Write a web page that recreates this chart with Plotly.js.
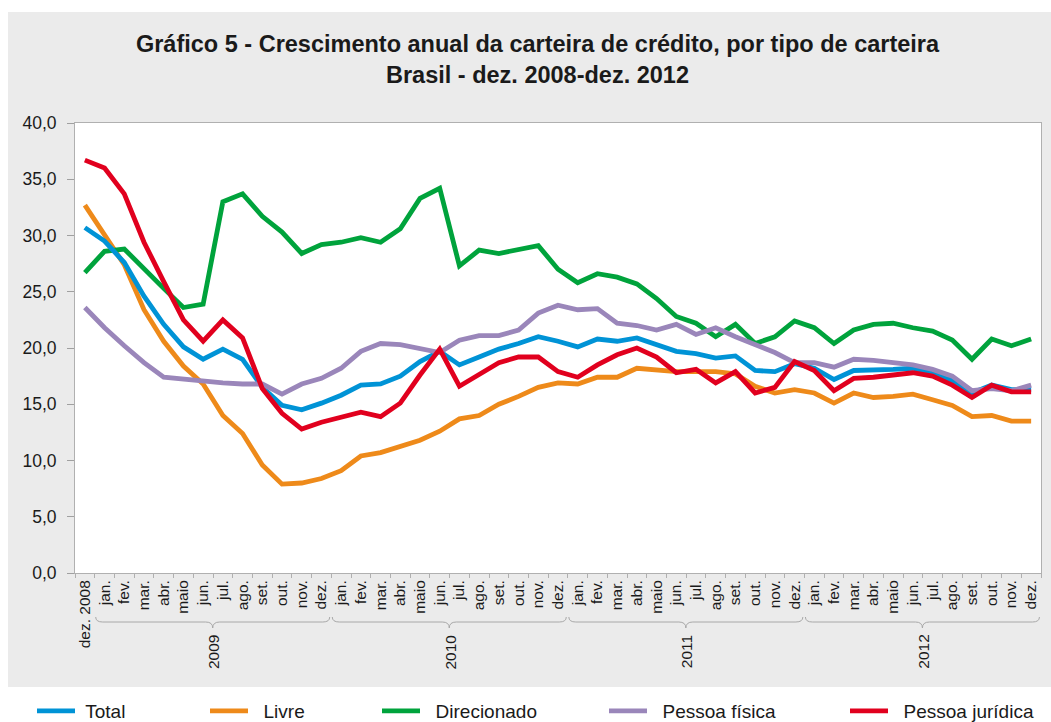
<!DOCTYPE html>
<html>
<head>
<meta charset="utf-8">
<script src="https://cdn.plot.ly/plotly-3.0.1.min.js"></script>
<style>html,body{margin:0;padding:0;background:#fff;}#chart{width:1051px;height:722px;}</style>
</head>
<body>
<div id="chart"></div>
<script>
// ---- data ----
const firstLabel = 'dez. 2008';
const months = ['jan.','fev.','mar.','abr.','maio','jun.','jul.','ago.','set.','out.','nov.','dez.'];
const years = ['2009','2010','2011','2012'];

const total = [30.7, 29.5, 27.6, 24.6, 22.1, 20.1, 19.0, 19.9, 19.0, 16.5, 14.9, 14.5, 15.1,
  15.8, 16.7, 16.8, 17.5, 18.8, 19.7, 18.5, 19.2, 19.9, 20.4, 21.0, 20.6,
  20.1, 20.8, 20.6, 20.9, 20.3, 19.7, 19.5, 19.1, 19.3, 18.0, 17.9, 18.6,
  18.2, 17.2, 18.0, 18.0, 18.1, 18.2, 17.8, 17.1, 16.0, 16.7, 16.3, 16.3];
const livre = [32.7, 30.0, 27.4, 23.4, 20.6, 18.4, 16.8, 14.0, 12.4, 9.6, 7.9, 8.0, 8.4,
  9.1, 10.4, 10.7, 11.2, 11.8, 12.6, 13.7, 14.0, 15.0, 15.7, 16.5, 16.9,
  16.8, 17.4, 17.4, 18.2, 18.0, 17.9, 17.9, 17.9, 17.7, 16.6, 16.0, 16.3,
  16.0, 15.1, 16.0, 15.6, 15.7, 15.9, 15.4, 14.9, 13.9, 14.0, 13.5, 13.5];
const direcionado = [26.7, 28.6, 28.8, 27.0, 25.3, 23.6, 23.9, 33.0, 33.7, 31.7, 30.3, 28.4, 29.2,
  29.4, 29.8, 29.4, 30.6, 33.3, 34.2, 27.3, 28.7, 28.4, 28.7, 29.1, 27.0,
  25.8, 26.6, 26.3, 25.7, 24.4, 22.8, 22.2, 21.0, 22.1, 20.4, 21.0, 22.4,
  21.8, 20.4, 21.6, 22.1, 22.2, 21.8, 21.5, 20.7, 19.0, 20.8, 20.2, 20.8];
const pessoaFisica = [23.6, 21.8, 20.2, 18.7, 17.4, 17.2, 17.1, 16.9, 16.8, 16.8, 15.9, 16.8, 17.3,
  18.2, 19.7, 20.4, 20.3, 20.0, 19.6, 20.7, 21.1, 21.1, 21.6, 23.1, 23.8,
  23.4, 23.5, 22.2, 22.0, 21.6, 22.1, 21.2, 21.8, 21.0, 20.3, 19.6, 18.7,
  18.7, 18.3, 19.0, 18.9, 18.7, 18.5, 18.1, 17.5, 16.2, 16.4, 16.2, 16.7];
const pessoaJuridica = [36.7, 36.0, 33.7, 29.4, 25.9, 22.5, 20.6, 22.5, 20.9, 16.4, 14.2, 12.8, 13.4,
  13.8, 14.3, 13.9, 15.1, 17.6, 19.9, 16.6, 17.6, 18.7, 19.2, 19.2, 17.9,
  17.4, 18.5, 19.4, 20.0, 19.2, 17.8, 18.1, 16.9, 17.9, 16.0, 16.5, 18.8,
  18.0, 16.2, 17.3, 17.4, 17.6, 17.8, 17.5, 16.7, 15.6, 16.7, 16.1, 16.1];

// ---- categories ----
const cats = [firstLabel];
const tickText = [firstLabel];
years.forEach(y => months.forEach(m => { cats.push(m + ' ' + y); tickText.push(m); }));
const n = cats.length;

const series = [
  {name: 'Livre', y: livre, color: '#EE8A1A', legend: 'legend2', lx: 213, pad: '\u00A0\u00A0'},
  {name: 'Direcionado', y: direcionado, color: '#00A33C', legend: 'legend3', lx: 385, pad: '\u00A0\u00A0'},
  {name: 'Total', y: total, color: '#0093D6', legend: 'legend', lx: 40, pad: '\u00A0'},
  {name: 'Pessoa física', y: pessoaFisica, color: '#9A86BA', legend: 'legend4', lx: 612, pad: '\u00A0\u00A0'},
  {name: 'Pessoa jurídica', y: pessoaJuridica, color: '#E1001E', legend: 'legend5', lx: 853, pad: '\u00A0\u00A0'}
];

const traces = series.map(s => ({
  type: 'scatter', mode: 'lines', x: cats, y: s.y, name: s.pad + s.name,
  line: {color: s.color, width: 4.8}, legend: s.legend, showlegend: true, hoverinfo: 'skip'
}));

// geometry helpers (paper coords)
const W = 1051, H = 722, ML = 75, MR = 10, MT = 123, MB = 149;
const PW = W - ML - MR, PH = H - MT - MB;
const pxX = px => (px - ML) / PW;
const pxY = py => (H - MB - py) / PH;
const idx2paper = v => (v + 0.5) / n;

const shapes = [
  {type: 'rect', xref: 'paper', yref: 'paper', x0: pxX(-5), x1: pxX(W + 5), y0: pxY(-5), y1: pxY(12), fillcolor: '#fff', line: {width: 0}, layer: 'below'},
  {type: 'rect', xref: 'paper', yref: 'paper', x0: pxX(-5), x1: pxX(8), y0: pxY(H + 5), y1: pxY(-5), fillcolor: '#fff', line: {width: 0}, layer: 'below'},
  {type: 'rect', xref: 'paper', yref: 'paper', x0: pxX(-5), x1: pxX(W + 5), y0: pxY(H + 5), y1: pxY(687), fillcolor: '#fff', line: {width: 0}, layer: 'below'}
];
const annotations = [];
const yTop = pxY(617), yMid = pxY(622), yTip = pxY(628);
const r = 7 / PW;
years.forEach((yr, k) => {
  const s = 1 + 12 * k, e = s + months.length - 1;
  const x0 = idx2paper(s - 0.45), x1 = idx2paper(e + 0.42), xc = (x0 + x1) / 2;
  shapes.push({
    type: 'path', xref: 'paper', yref: 'paper',
    path: `M${x0},${yTop} Q${x0},${yMid} ${x0 + r},${yMid} L${xc - r},${yMid} Q${xc},${yMid} ${xc},${yTip} Q${xc},${yMid} ${xc + r},${yMid} L${x1 - r},${yMid} Q${x1},${yMid} ${x1},${yTop}`,
    line: {color: '#a8a8a8', width: 1}
  });
  annotations.push({
    xref: 'paper', yref: 'paper', x: idx2paper((s + e) / 2), y: pxY(652),
    text: yr, showarrow: false, textangle: -90, xanchor: 'center', yanchor: 'middle',
    font: {family: 'Liberation Sans, Arial, sans-serif', size: 15.5, color: '#1a1a1a'}
  });
});

const layout = {
  width: W, height: H,
  margin: {l: ML, r: MR, t: MT, b: MB, pad: 0},
  paper_bgcolor: '#EBEBEB', plot_bgcolor: '#FFFFFF',
  separators: ',.',
  showlegend: true,
  font: {family: 'Liberation Sans, Arial, sans-serif', color: '#1a1a1a'},
  title: {
    text: 'Gráfico 5 - Crescimento anual da carteira de crédito, por tipo de carteira<br>Brasil - dez. 2008-dez. 2012',
    font: {family: 'Liberation Sans, Arial, sans-serif', size: 23.5, weight: 700, color: '#1a1a1a'},
    x: 537.5 / W, xref: 'container', xanchor: 'center',
    y: 1 - 52 / H, yref: 'container', yanchor: 'middle'
  },
  xaxis: {
    type: 'category', range: [-0.5, n - 0.5], tickmode: 'array', tickvals: cats, ticktext: tickText,
    tickangle: -90, tickson: 'boundaries', ticks: 'outside', ticklen: 4, tickcolor: '#b0b0b0',
    tickfont: {size: 15.5, color: '#1a1a1a'}, showgrid: false, zeroline: false,
    showline: true, linecolor: '#b0b0b0', linewidth: 1, mirror: true, fixedrange: true
  },
  yaxis: {
    range: [0, 40], tick0: 0, dtick: 5, tickformat: '.1f', ticks: 'outside', ticklen: 7, tickcolor: '#a0a0a0',
    tickfont: {size: 17.5, color: '#1a1a1a'}, ticklabelstandoff: 7, showgrid: false, zeroline: false,
    showline: true, linecolor: '#b0b0b0', linewidth: 1, mirror: true, fixedrange: true
  },
  shapes: shapes,
  annotations: annotations,
  hovermode: false
};
series.forEach(s => {
  layout[s.legend] = {
    orientation: 'h', xref: 'container', yref: 'container',
    x: (s.lx - 8) / W, y: 1 - 711 / H, xanchor: 'left', yanchor: 'middle',
    font: {size: 19, color: '#1a1a1a'}, itemwidth: 38, bgcolor: 'rgba(0,0,0,0)', borderwidth: 0
  };
});

Plotly.newPlot('chart', traces, layout, {displayModeBar: false, staticPlot: true});
</script>
</body>
</html>
